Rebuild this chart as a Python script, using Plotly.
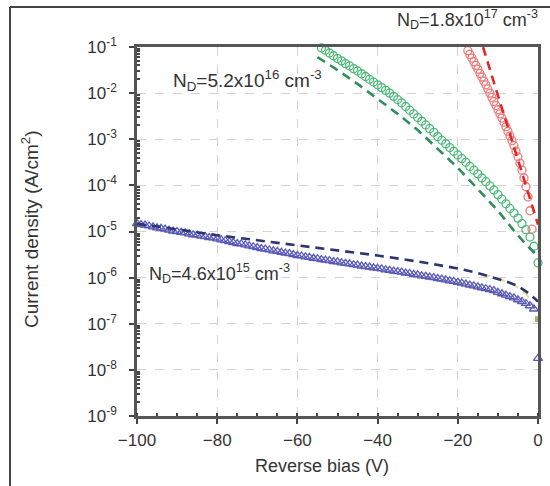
import plotly.graph_objects as go

# Reverse-bias sweep voltages (V)
blue_v = list(range(-100, 1))
# log10 of current density (A/cm^2), N_D = 4.6e15 cm^-3, measured
blue_log_j = [
    -4.83, -4.85, -4.86, -4.88, -4.90, -4.92, -4.93, -4.95, -4.97, -4.99,
    -5.00, -5.02, -5.03, -5.05, -5.07, -5.08, -5.10, -5.11, -5.13, -5.14,
    -5.16, -5.18, -5.20, -5.22, -5.24, -5.26, -5.27, -5.29, -5.31, -5.33,
    -5.35, -5.37, -5.38, -5.40, -5.42, -5.43, -5.45, -5.47, -5.48, -5.50,
    -5.52, -5.53, -5.55, -5.56, -5.58, -5.59, -5.61, -5.62, -5.63, -5.65,
    -5.66, -5.68, -5.69, -5.70, -5.72, -5.73, -5.75, -5.76, -5.77, -5.79,
    -5.80, -5.81, -5.83, -5.84, -5.86, -5.87, -5.88, -5.90, -5.91, -5.93,
    -5.94, -5.96, -5.97, -5.99, -6.00, -6.02, -6.03, -6.05, -6.07, -6.08,
    -6.10, -6.12, -6.14, -6.16, -6.18, -6.20, -6.22, -6.24, -6.26, -6.28,
    -6.32, -6.35, -6.38, -6.41, -6.44, -6.48, -6.52, -6.56, -6.61, -6.68,
    -7.75,
]
# Simulated curve, N_D = 4.6e15
blue_fit_v = [-100, -90, -80, -70, -60, -50, -40, -30, -25, -20, -15, -12, -8, -5, -2, 0]
blue_fit_log_j = [-4.83, -4.96, -5.08, -5.19, -5.30, -5.41, -5.52, -5.65, -5.73, -5.80,
                  -5.90, -5.98, -6.08, -6.18, -6.36, -6.52]

# Measured, N_D = 5.2e16 cm^-3
green_v = list(range(-54, 1))
green_log_j = [
    -1.02, -1.07, -1.13, -1.19, -1.25, -1.30, -1.36, -1.41, -1.47, -1.52,
    -1.58, -1.64, -1.70, -1.76, -1.82, -1.88, -1.94, -2.00, -2.07, -2.14,
    -2.21, -2.29, -2.37, -2.45, -2.53, -2.61, -2.69, -2.77, -2.85, -2.94,
    -3.02, -3.10, -3.18, -3.26, -3.34, -3.42, -3.50, -3.59, -3.67, -3.75,
    -3.84, -3.92, -4.01, -4.10, -4.20, -4.30, -4.40, -4.50, -4.60, -4.71,
    -4.83, -4.96, -5.12, -5.32, -5.68,
]
green_fit_v = [-55, -50, -45, -40, -35, -30, -25, -20, -15, -10, -6, -3, -1, 0]
green_fit_log_j = [-1.22, -1.50, -1.80, -2.12, -2.45, -2.80, -3.20, -3.62, -4.08, -4.55,
                   -4.98, -5.28, -5.45, -5.55]

# Measured, N_D = 1.8e17 cm^-3
red_v = [-18, -17.5, -17, -16.5, -16, -15.5, -15, -14.5, -14, -13.5, -13, -12.5,
         -12, -11.5, -11, -10.5, -10, -9.5, -9, -8.5, -8, -7.5, -7, -6.5,
         -6, -5.5, -5, -4.5, -4, -3.5, -3, -2.5, -2, -1.5]
red_log_j = [-1.00, -1.08, -1.16, -1.24, -1.32, -1.40, -1.48, -1.57, -1.65, -1.74,
             -1.82, -1.91, -2.00, -2.09, -2.18, -2.27, -2.36, -2.45, -2.54, -2.63,
             -2.73, -2.83, -2.93, -3.03, -3.14, -3.26, -3.38, -3.52, -3.67, -3.84,
             -4.03, -4.25, -4.55, -4.95]
red_fit_v = [-13.7, -12, -10, -8, -6, -4, -2, -1, 0]
red_fit_log_j = [-1.00, -1.50, -2.05, -2.60, -3.15, -3.70, -4.25, -4.55, -4.85]

# Short near-zero-bias curve and its end point
olive_fit_v = [-14, -10, -6, -3, -1, 0]
olive_fit_log_j = [-5.92, -6.02, -6.15, -6.35, -6.60, -6.90]

y_tick_exp = [-9, -8, -7, -6, -5, -4, -3, -2, -1]
x_tick_vals = [-100, -80, -60, -40, -20, 0]


def to_j(logs):
    return [10 ** e for e in logs]


BLUE = "#5a5ab8"
BLUE_D = "#2d3570"
GREEN = "#4cb878"
GREEN_D = "#2f8f5a"
RED = "#f07a7a"
RED_D = "#e02a2a"
OLIVE = "#e6dc9a"
DASH = "9px,6px"

fig = go.Figure()

fig.add_trace(go.Scatter(x=olive_fit_v, y=to_j(olive_fit_log_j), mode="lines",
                         line=dict(color=OLIVE, width=2, dash=DASH)))
fig.add_trace(go.Scatter(x=[olive_fit_v[-1]], y=to_j(olive_fit_log_j[-1:]), mode="markers",
                         marker=dict(symbol="square", size=6, color="#b5ad6a"),
                         cliponaxis=False))

fig.add_trace(go.Scatter(x=blue_v, y=to_j(blue_log_j), mode="markers",
                         marker=dict(symbol="triangle-up-open", size=8, color=BLUE,
                                     line=dict(width=1.3, color=BLUE)),
                         cliponaxis=False))
fig.add_trace(go.Scatter(x=blue_fit_v, y=to_j(blue_fit_log_j), mode="lines",
                         line=dict(color=BLUE_D, width=2.6, dash=DASH)))

fig.add_trace(go.Scatter(x=green_v, y=to_j(green_log_j), mode="markers",
                         marker=dict(symbol="circle-open", size=8, color=GREEN,
                                     line=dict(width=1.3, color=GREEN)),
                         cliponaxis=False))
fig.add_trace(go.Scatter(x=green_fit_v, y=to_j(green_fit_log_j), mode="lines",
                         line=dict(color=GREEN_D, width=2.6, dash=DASH)))

fig.add_trace(go.Scatter(x=red_v, y=to_j(red_log_j), mode="markers",
                         marker=dict(symbol="circle-open", size=8, color=RED,
                                     line=dict(width=1.3, color=RED)),
                         cliponaxis=False))
fig.add_trace(go.Scatter(x=red_fit_v, y=to_j(red_fit_log_j), mode="lines",
                         line=dict(color=RED_D, width=2.6, dash=DASH)))

FONT = "Liberation Sans, Arial, sans-serif"
TXT = "#333333"

fig.update_xaxes(
    range=[-100, 0], tickvals=x_tick_vals, ticks="outside", ticklen=5, tickwidth=1.5,
    tickcolor="#444", showline=True, linecolor="#555", linewidth=2.5, mirror=True,
    showgrid=True, gridcolor="#d2d2d2", griddash="dash", gridwidth=1,
    zeroline=False, automargin=False, tickfont=dict(size=17, color=TXT),
    ticklabelstandoff=2,
    minor=dict(dtick=5, ticks="inside", ticklen=3, tickcolor="#444", showgrid=False),
)
fig.update_yaxes(
    type="log", range=[-9, -1], tickvals=[10 ** e for e in y_tick_exp],
    ticktext=[f"10<sup>{e}</sup>" for e in y_tick_exp],
    ticks="outside", ticklen=5, tickwidth=1.5, tickcolor="#444",
    showline=True, linecolor="#555", linewidth=2.5, mirror=True,
    showgrid=True, gridcolor="#d2d2d2", griddash="dash", gridwidth=1,
    zeroline=False, automargin=False, tickfont=dict(size=17, color=TXT),
    ticklabelstandoff=9,
    minor=dict(tickvals=[m * 10 ** e for e in range(-9, -1) for m in range(2, 10)],
               ticks="inside", ticklen=3, tickcolor="#444", showgrid=False),
)

L, R, T, B = 137, 12, 47, 70
W, H = 550, 486
PW, PH = W - L - R, H - T - B


def px(xp):
    return (xp - L) / PW


def py(yp):
    return (H - B - yp) / PH


annotations = [
    dict(text="N<sub>D</sub>=1.8x10<sup>17</sup> cm<sup>-3</sup>", x=px(467), y=py(19), size=18),
    dict(text="N<sub>D</sub>=5.2x10<sup>16</sup> cm<sup>-3</sup>", x=px(247), y=py(80), size=19),
    dict(text="N<sub>D</sub>=4.6x10<sup>15</sup> cm<sup>-3</sup>", x=px(219), y=py(273), size=18),
    dict(text="Current density (A/cm<sup>2</sup>)", x=px(30), y=py(230), textangle=-90, size=19),
    dict(text="Reverse bias (V)", x=px(322), y=py(466), size=18),
]
for a in annotations:
    size = a.pop("size")
    a.update(xref="paper", yref="paper", showarrow=False,
             font=dict(family=FONT, size=size, color=TXT),
             xanchor="center", yanchor="middle")

shapes = [
    dict(type="line", xref="paper", yref="paper", x0=px(10), y0=py(7), x1=px(560), y1=py(7),
         line=dict(color="#444", width=2)),
    dict(type="line", xref="paper", yref="paper", x0=px(10), y0=py(7), x1=px(10), y1=py(500),
         line=dict(color="#444", width=2)),
]

fig.update_layout(
    width=W, height=H, margin=dict(l=L, r=R, t=T, b=B),
    paper_bgcolor="white", plot_bgcolor="white", showlegend=False,
    font=dict(family=FONT, size=14, color=TXT),
    annotations=annotations, shapes=shapes,
)

fig.write_html("out.html")
